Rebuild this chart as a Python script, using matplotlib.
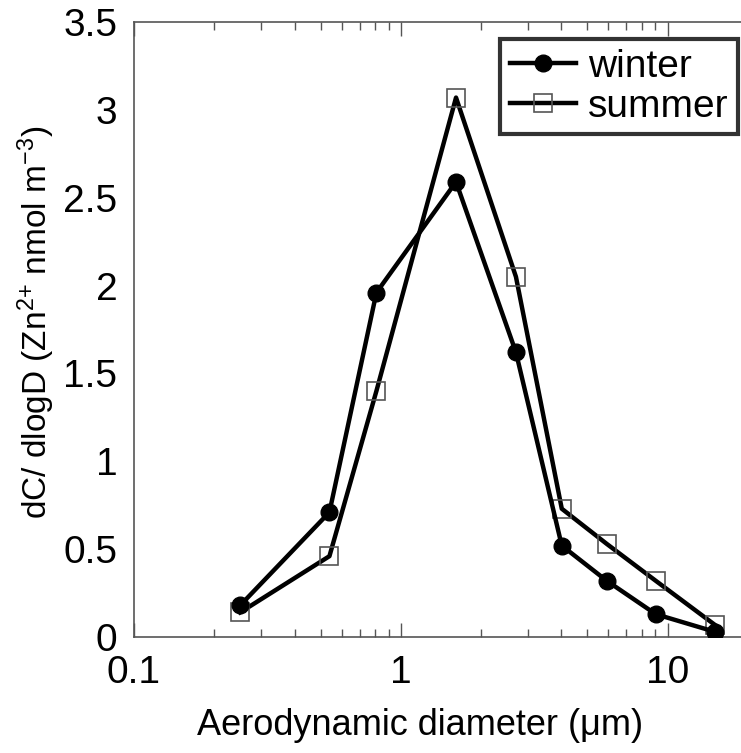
# size-resolved Zn2+ concentration, winter vs summer

import numpy as np
import matplotlib.pyplot as plt
from matplotlib.ticker import FixedLocator, FixedFormatter, LogLocator, NullFormatter

diameter = [0.25, 0.54, 0.81, 1.61, 2.70, 4.01, 5.91, 9.02, 15.0]
winter = [0.18, 0.71, 1.96, 2.59, 1.62, 0.52, 0.32, 0.13, 0.03]
summer = [0.14, 0.46, 1.40, 3.07, 2.05, 0.73, 0.53, 0.32, 0.07]

xticks = [0.1, 1, 10]
xticklabels = ["0.1", "1", "10"]
yticks = [0, 0.5, 1, 1.5, 2, 2.5, 3, 3.5]
yticklabels = ["0", "0.5", "1", "1.5", "2", "2.5", "3", "3.5"]

plt.rcParams['font.family'] = ['Liberation Sans', 'DejaVu Sans']
plt.rcParams['mathtext.fontset'] = 'custom'
plt.rcParams['mathtext.rm'] = 'Liberation Sans'
plt.rcParams['mathtext.it'] = 'Liberation Sans'


def main():
    W, H = 741, 753
    fig = plt.figure(figsize=(W/100, H/100), dpi=100)

    left, right, top, bottom = 134, 748, 22, 637
    ax = fig.add_axes([left/W, 1 - bottom/H, (right - left)/W, (bottom - top)/H])

    ax.plot(diameter, winter, color="black", lw=3.2, marker="o", ms=12,
            mfc="black", mec="black", label="winter", zorder=3)
    ax.plot(diameter, summer, color="black", lw=3.2, marker="s", ms=13,
            mfc="none", mec="#555555", mew=1.2, label="summer", zorder=2)

    ax.set_xscale("log")
    ax.set_xlim(0.1, 20)
    ax.set_ylim(0, 3.5)

    ax.xaxis.set_major_locator(FixedLocator(xticks))
    ax.xaxis.set_major_formatter(FixedFormatter(xticklabels))
    ax.xaxis.set_minor_locator(LogLocator(base=10, subs=np.arange(2, 10)))
    ax.xaxis.set_minor_formatter(NullFormatter())
    ax.yaxis.set_major_locator(FixedLocator(yticks))
    ax.yaxis.set_major_formatter(FixedFormatter(yticklabels))

    ax.tick_params(axis="x", which="major", direction="in", length=10, width=1,
                   color="#555555", top=True, labelsize=28, pad=13)
    ax.tick_params(axis="x", which="minor", direction="in", length=6, width=1,
                   color="#555555", top=True)
    ax.tick_params(axis="y", which="both", length=0, labelsize=28, pad=12)

    for side in ["left", "bottom", "top"]:
        ax.spines[side].set_color("#555555")
        ax.spines[side].set_linewidth(1.2)
    ax.spines["right"].set_visible(False)

    ax.set_xlabel("Aerodynamic diameter (\u03bcm)", fontsize=26)
    ax.xaxis.set_label_coords(0.466, -0.115)
    ax.set_ylabel("dC/ dlogD (Zn$^{2{+}}$ nmol m$^{{-}3}$)", fontsize=24)
    ax.yaxis.set_label_coords(-0.125, 0.512)

    leg = ax.legend(loc="upper right", bbox_to_anchor=(738/W, 1 - 39/H),
                    bbox_transform=fig.transFigure, fontsize=28, frameon=True,
                    fancybox=False, handlelength=1.7, handletextpad=0.3,
                    borderpad=0.25, labelspacing=0.1, borderaxespad=0)
    leg.get_frame().set_edgecolor("black")
    leg.get_frame().set_linewidth(3)

    fig.savefig("out.png", dpi=100)


if __name__ == "__main__":
    main()
